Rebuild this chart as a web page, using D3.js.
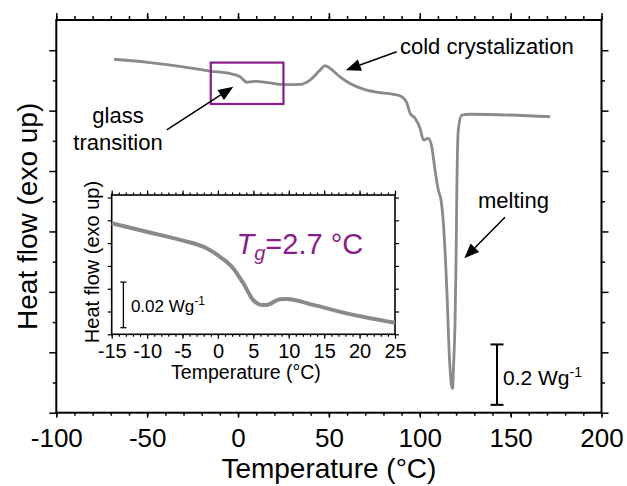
<!DOCTYPE html>
<html>
<head>
<meta charset="utf-8">
<script src="https://cdn.jsdelivr.net/npm/d3@7"></script>
<style>
  body { margin: 0; background: #fff; }
  svg { display: block; }
  text { font-family: "Liberation Sans", Arial, Helvetica, sans-serif; fill: #000; }
</style>
</head>
<body>
<svg id="chart" width="627" height="486"></svg>
<script>
// DSC heating scan: heat flow (W/g, offset, exo up) against temperature (°C)
const scanTemp = [-68.2, -48.4, -30.1, -15.4, -2.6, 1.1, 4.8, 7.5, 10.3, 24.9, 34.1, 39.6, 45.1, 47.9, 50.6,
  56.1, 61.6, 69.0, 76.3, 85.5, 90.1, 92.8, 94.7, 97.4, 100.2, 102.0, 104.7, 106.6, 108.4, 110.2,
  111.7, 113.0, 114.9, 116.3, 117.6, 118.1, 118.5, 119.4, 120.0, 120.4, 121.2, 123.1, 127.7, 171.7];
const scanFlow = [1.170, 1.159, 1.145, 1.131, 1.120, 1.112, 1.094, 1.096, 1.097, 1.086, 1.087, 1.101, 1.134, 1.149, 1.140,
  1.112, 1.090, 1.071, 1.061, 1.054, 1.046, 1.027, 0.991, 0.975, 0.941, 0.903, 0.908, 0.880, 0.803, 0.737,
  0.704, 0.627, 0.406, 0.185, 0.086, 0.080, 0.141, 0.296, 0.516, 0.737, 0.936, 0.985, 0.988, 0.980];

// Zoom on the glass transition region
const insetTemp = [-15, -10.06, -5.36, -1.59, 0.29, 2.17, 3.58, 4.99, 6.18, 6.88, 8.76, 9.71, 13.46, 18.18, 25.0];
const insetFlow = [0.0487, 0.0450, 0.0414, 0.0377, 0.0340, 0.0289, 0.0224, 0.0150, 0.0129, 0.0129, 0.0154, 0.0155, 0.0129, 0.0092, 0.0051];

// Axis ticks
const xTicks = [-100, -50, 0, 50, 100, 150, 200];
const xTickLabels = ["-100", "-50", "0", "50", "100", "150", "200"];
const xMinorTicks = d3.range(-100, 201, 10);
const yMajorTicks = [0, 0.2, 0.4, 0.6, 0.8, 1.0, 1.2];
const yMinorTicks = [0.1, 0.3, 0.5, 0.7, 0.9, 1.1];
const insetXTicks = [-15, -10, -5, 0, 5, 10, 15, 20, 25];
const insetXTickLabels = ["-15", "-10", "-5", "0", "5", "10", "15", "20", "25"];
const insetXMinorTicks = d3.range(-15, 26, 1);
const insetYTicks = [0, 0.01, 0.02, 0.03, 0.04, 0.05, 0.06];

// Scale bars (W/g) and the highlighted glass-transition window
const scaleBarMain = 0.2;
const scaleBarInset = 0.02;
const glassBoxTemp = [-15, 25];
const glassBoxFlow = [1.022, 1.159];
const tgValue = 2.7;

const svg = d3.select("#chart");
const curveColor = "#8a8a8a";
const purple = "#8b1c8b";

// ---------- main panel ----------
const x = d3.scaleLinear().domain([-100, 200]).range([56.3, 601.5]);
const y = d3.scaleLinear().domain([0, 1.3]).range([412.7, 20]);

const main = svg.append("g");

function styleAxis(g, width) {
  g.select(".domain").remove();
  g.selectAll(".tick line").attr("stroke", "#000").attr("stroke-width", width);
}

// bottom
main.append("g").attr("transform", `translate(0,${y(0)})`)
  .call(d3.axisBottom(x).tickValues(xMinorTicks).tickSize(3).tickFormat(""))
  .call(g => styleAxis(g, 1.5));
const xb = main.append("g").attr("transform", `translate(0,${y(0)})`)
  .call(d3.axisBottom(x).tickValues(xTicks).tickSize(5).tickPadding(10.5)
    .tickFormat((d, i) => xTickLabels[i]))
  .call(g => styleAxis(g, 1.5));
xb.selectAll(".tick text").attr("font-size", 26).attr("font-family", null).attr("fill", "#000");
// top
main.append("g").attr("transform", `translate(0,${y(1.3)})`)
  .call(d3.axisTop(x).tickValues(xMinorTicks).tickSize(4).tickFormat(""))
  .call(g => styleAxis(g, 1.5));
main.append("g").attr("transform", `translate(0,${y(1.3)})`)
  .call(d3.axisTop(x).tickValues(xTicks).tickSize(7).tickFormat(""))
  .call(g => styleAxis(g, 1.5));
// left / right
[[d3.axisLeft, x(-100)], [d3.axisRight, x(200)]].forEach(([ax, pos]) => {
  main.append("g").attr("transform", `translate(${pos},0)`)
    .call(ax(y).tickValues(yMajorTicks).tickSize(7).tickFormat(""))
    .call(g => styleAxis(g, 1.5));
  main.append("g").attr("transform", `translate(${pos},0)`)
    .call(ax(y).tickValues(yMinorTicks).tickSize(3.5).tickFormat(""))
    .call(g => styleAxis(g, 1.5));
});
main.append("rect")
  .attr("x", x(-100)).attr("y", y(1.3))
  .attr("width", x(200) - x(-100)).attr("height", y(0) - y(1.3))
  .attr("fill", "none").attr("stroke", "#000").attr("stroke-width", 2);

main.append("text").attr("x", (x(-100) + x(200)) / 2).attr("y", 478)
  .attr("text-anchor", "middle").attr("font-size", 28).text("Temperature (°C)");
main.append("text").attr("transform", `translate(37,${(y(0) + y(1.3)) / 2}) rotate(-90)`)
  .attr("text-anchor", "middle").attr("font-size", 28).text("Heat flow (exo up)");

// scan curve
const scan = scanTemp.map((t, i) => [t, scanFlow[i]]);
main.append("path").datum(scan)
  .attr("fill", "none").attr("stroke", curveColor).attr("stroke-width", 2.8)
  .attr("stroke-linejoin", "round")
  .attr("d", d3.line().x(d => x(d[0])).y(d => y(d[1])).curve(d3.curveMonotoneX));

// glass transition window
main.append("rect")
  .attr("x", x(glassBoxTemp[0])).attr("y", y(glassBoxFlow[1]))
  .attr("width", x(glassBoxTemp[1]) - x(glassBoxTemp[0]))
  .attr("height", y(glassBoxFlow[0]) - y(glassBoxFlow[1]))
  .attr("fill", "none").attr("stroke", purple).attr("stroke-width", 2.2);

// annotation arrows
function arrow(g, x1, y1, x2, y2) {
  const ang = Math.atan2(y2 - y1, x2 - x1);
  const L = 15, w = 6;
  const bx = x2 - L * Math.cos(ang), by = y2 - L * Math.sin(ang);
  g.append("line").attr("x1", x1).attr("y1", y1).attr("x2", bx).attr("y2", by)
    .attr("stroke", "#000").attr("stroke-width", 1.5);
  const p = [[x2, y2],
    [bx + w * Math.sin(ang), by - w * Math.cos(ang)],
    [bx - w * Math.sin(ang), by + w * Math.cos(ang)]];
  g.append("polygon").attr("points", p.map(q => q.join(",")).join(" ")).attr("fill", "#000");
}
arrow(main, x(-39.2), y(0.936), x(-2.6), y(1.079));
arrow(main, x(87.3), y(1.195), x(59.3), y(1.134));
arrow(main, x(146.9), y(0.647), x(124.5), y(0.511));

main.append("text").attr("x", 118).attr("y", 123).attr("text-anchor", "middle")
  .attr("font-size", 22).text("glass");
main.append("text").attr("x", 118).attr("y", 150).attr("text-anchor", "middle")
  .attr("font-size", 22).text("transition");
main.append("text").attr("x", 400).attr("y", 54).attr("font-size", 22).text("cold crystalization");
main.append("text").attr("x", 478).attr("y", 208).attr("font-size", 22).text("melting");

// 0.2 W/g scale bar
const sbX = x(142.5), sbTop = y(0.226), sbBot = y(0.226 - scaleBarMain);
const sb = main.append("g").attr("stroke", "#000").attr("stroke-width", 2);
sb.append("line").attr("x1", sbX).attr("x2", sbX).attr("y1", sbTop).attr("y2", sbBot);
sb.append("line").attr("x1", sbX - 6.5).attr("x2", sbX + 6.5).attr("y1", sbTop).attr("y2", sbTop);
sb.append("line").attr("x1", sbX - 6.5).attr("x2", sbX + 6.5).attr("y1", sbBot).attr("y2", sbBot);
const sbt = main.append("text").attr("x", sbX + 6).attr("y", 385).attr("font-size", 21);
sbt.append("tspan").text(`${scaleBarMain} Wg`);
sbt.append("tspan").attr("dy", -8).attr("font-size", 14).text("-1");

// ---------- inset ----------
const ix = d3.scaleLinear().domain([-15, 25]).range([111.7, 395]);
const iy = d3.scaleLinear().domain([0, 0.0611]).range([334.3, 195]);
const inset = svg.append("g");

inset.append("rect").attr("x", ix(-15)).attr("y", iy(0.0611))
  .attr("width", ix(25) - ix(-15)).attr("height", iy(0) - iy(0.0611)).attr("fill", "#fff");

inset.append("g").attr("transform", `translate(0,${iy(0)})`)
  .call(d3.axisBottom(ix).tickValues(insetXMinorTicks).tickSize(2.5).tickFormat(""))
  .call(g => styleAxis(g, 1.2));
const ixb = inset.append("g").attr("transform", `translate(0,${iy(0)})`)
  .call(d3.axisBottom(ix).tickValues(insetXTicks).tickSize(4.5).tickPadding(5.5)
    .tickFormat((d, i) => insetXTickLabels[i]))
  .call(g => styleAxis(g, 1.2));
ixb.selectAll(".tick text").attr("font-size", 20).attr("font-family", null).attr("fill", "#000");
inset.append("g").attr("transform", `translate(0,${iy(0.0611)})`)
  .call(d3.axisTop(ix).tickValues(insetXMinorTicks).tickSize(2.5).tickFormat(""))
  .call(g => styleAxis(g, 1.2));
inset.append("g").attr("transform", `translate(0,${iy(0.0611)})`)
  .call(d3.axisTop(ix).tickValues(insetXTicks).tickSize(4.5).tickFormat(""))
  .call(g => styleAxis(g, 1.2));
[[d3.axisLeft, ix(-15)], [d3.axisRight, ix(25)]].forEach(([ax, pos]) => {
  inset.append("g").attr("transform", `translate(${pos},0)`)
    .call(ax(iy).tickValues(insetYTicks).tickSize(4).tickFormat(""))
    .call(g => styleAxis(g, 1.2));
});
inset.append("rect").attr("x", ix(-15)).attr("y", iy(0.0611))
  .attr("width", ix(25) - ix(-15)).attr("height", iy(0) - iy(0.0611))
  .attr("fill", "none").attr("stroke", "#000").attr("stroke-width", 1.6);

inset.append("text").attr("x", 246).attr("y", 379).attr("text-anchor", "middle")
  .attr("font-size", 19.5).text("Temperature (°C)");
inset.append("text").attr("transform", `translate(99,262) rotate(-90)`)
  .attr("text-anchor", "middle").attr("font-size", 20).text("Heat flow (exo up)");

const zoomed = insetTemp.map((t, i) => [t, insetFlow[i]]);
inset.append("path").datum(zoomed)
  .attr("fill", "none").attr("stroke", curveColor).attr("stroke-width", 4)
  .attr("stroke-linejoin", "round")
  .attr("d", d3.line().x(d => ix(d[0])).y(d => iy(d[1])).curve(d3.curveMonotoneX));

// 0.02 W/g scale bar
const isbX = ix(-13.35), isbTop = iy(0.0229), isbBot = iy(0.0229 - scaleBarInset);
const isb = inset.append("g").attr("stroke", "#000").attr("stroke-width", 1.3);
isb.append("line").attr("x1", isbX).attr("x2", isbX).attr("y1", isbTop).attr("y2", isbBot);
isb.append("line").attr("x1", isbX - 3).attr("x2", isbX + 3).attr("y1", isbTop).attr("y2", isbTop);
isb.append("line").attr("x1", isbX - 3).attr("x2", isbX + 3).attr("y1", isbBot).attr("y2", isbBot);
const isbt = inset.append("text").attr("x", isbX + 7.5).attr("y", 311.7).attr("font-size", 17);
isbt.append("tspan").text(`${scaleBarInset} Wg`);
isbt.append("tspan").attr("dy", -7).attr("font-size", 12).text("-1");

// Tg label
const tg = inset.append("text").attr("x", 236.5).attr("y", 253.5)
  .attr("font-size", 29).style("fill", purple);
tg.append("tspan").attr("font-style", "italic").text("T");
tg.append("tspan").attr("font-style", "italic").attr("font-size", 20).attr("dy", 6).text("g");
tg.append("tspan").attr("dy", -6).text(`=${tgValue} °C`);
</script>
</body>
</html>
